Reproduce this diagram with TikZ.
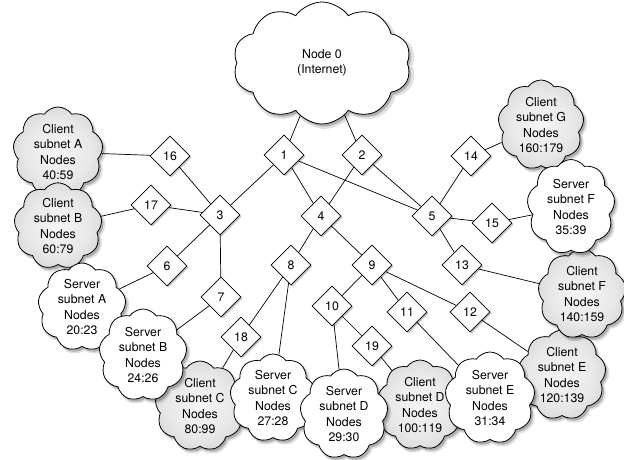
\documentclass[tikz,border=0pt]{standalone}
\usepackage{fontspec}
\setmainfont{TeX Gyre Heros}
\usetikzlibrary{shapes.symbols,shapes.geometric,shadows,backgrounds}
\pgfdeclareradialshading{cloudshade}{\pgfpointorigin}{color(0bp)=(black!4); color(18bp)=(black!9); color(34bp)=(black!20); color(50bp)=(black!36)}
\begin{document}
\begin{tikzpicture}[x=1pt,y=-1pt,
  every node/.style={font=\fontsize{12.3}{15.5}\selectfont, align=center},
  softshadow/.style={
     drop shadow={shadow xshift=2.5pt, shadow yshift=-3pt, shadow scale=1.03, fill=black, opacity=0.12},
     drop shadow={shadow xshift=2pt, shadow yshift=-2.5pt, fill=black, opacity=0.22}},
  cl/.style={cloud, cloud puffs=9, cloud puff arc=110, cloud ignores aspect, draw=black, line width=0.8pt, inner sep=0pt, softshadow},
  wcl/.style={cl, fill=white},
  gcl/.style={cl, shading=cloudshade},
  dia/.style={diamond, draw=black, fill=white, line width=0.8pt, minimum width=40pt, minimum height=40pt, inner sep=0pt,
     drop shadow={shadow xshift=1.5pt, shadow yshift=-1.5pt, fill=black, opacity=0.25}},
  edge/.style={line width=0.7pt}]
\useasboundingbox (0,0) rectangle (624,459);
% clouds
\node[wcl, cloud puffs=10, minimum width=178pt, minimum height=122pt] (n0) at (322,63) {Node 0\\(Internet)};
\node[gcl, minimum width=90pt, minimum height=90pt] (ca) at (58,152) {Client\\subnet A\\Nodes\\40:59};
\node[gcl, minimum width=88pt, minimum height=86pt] (cb) at (58,226) {Client\\subnet B\\Nodes\\60:79};
\node[wcl, minimum width=88pt, minimum height=88pt] (sa) at (82,307) {Server\\subnet A\\Nodes\\20:23};
\node[gcl, minimum width=90pt, minimum height=90pt] (cc) at (200,406) {Client\\subnet C\\Nodes\\80:99};
\node[wcl, minimum width=88pt, minimum height=92pt] (sb) at (143,355) {Server\\subnet B\\Nodes\\24:26};
\node[wcl, minimum width=86pt, minimum height=88pt] (sc) at (273,398) {Server\\subnet C\\Nodes\\27:28};
\node[gcl, minimum width=86pt, minimum height=90pt] (cd) at (420,405) {Client\\subnet D\\Nodes\\100:119};
\node[wcl, minimum width=88pt, minimum height=90pt] (sd) at (344,414) {Server\\subnet D\\Nodes\\29:30};
\node[gcl, minimum width=88pt, minimum height=90pt] (ce) at (562,375) {Client\\subnet E\\Nodes\\120:139};
\node[wcl, minimum width=90pt, minimum height=92pt] (se) at (490,398) {Server\\subnet E\\Nodes\\31:34};
\node[gcl, minimum width=88pt, minimum height=90pt] (cf) at (582,294) {Client\\subnet F\\Nodes\\140:159};
\node[gcl, minimum width=86pt, minimum height=90pt] (cg) at (541,125) {Client\\subnet G\\Nodes\\160:179};
\node[wcl, minimum width=88pt, minimum height=95pt] (sf) at (571,207) {Server\\subnet F\\Nodes\\35:39};
% diamonds
\node[dia] (d1) at (284,155) {1};
\node[dia] (d2) at (362,155) {2};
\node[dia] (d3) at (220,215) {3};
\node[dia] (d4) at (321,216) {4};
\node[dia] (d5) at (432,216) {5};
\node[dia] (d6) at (167,266) {6};
\node[dia] (d7) at (221,297) {7};
\node[dia] (d8) at (291,265) {8};
\node[dia] (d9) at (372,265) {9};
\node[dia] (d10) at (332,306) {10};
\node[dia] (d11) at (407,312) {11};
\node[dia] (d12) at (470,312) {12};
\node[dia] (d13) at (462,265) {13};
\node[dia] (d14) at (471,156) {14};
\node[dia] (d15) at (492,223) {15};
\node[dia] (d16) at (170,156) {16};
\node[dia] (d17) at (151,205) {17};
\node[dia] (d18) at (241,337) {18};
\node[dia] (d19) at (372,346) {19};
% edges
\begin{scope}[on background layer]
\draw[edge] (n0) -- (d1);
\draw[edge] (n0) -- (d2);
\draw[edge] (d1) -- (d3);
\draw[edge] (d1) -- (d4);
\draw[edge] (d1) -- (d5);
\draw[edge] (d2) -- (d4);
\draw[edge] (d2) -- (d5);
\draw[edge] (ca) -- (d16);
\draw[edge] (d16) -- (d3);
\draw[edge] (cb) -- (d17);
\draw[edge] (d17) -- (d3);
\draw[edge] (d3) -- (d6);
\draw[edge] (d3) -- (d7);
\draw[edge] (d6) -- (sa);
\draw[edge] (d7) -- (sb);
\draw[edge] (d4) -- (d8);
\draw[edge] (d4) -- (d9);
\draw[edge] (d8) -- (d18);
\draw[edge] (d8) -- (sc);
\draw[edge] (d18) -- (cc);
\draw[edge] (d9) -- (d10);
\draw[edge] (d9) -- (d11);
\draw[edge] (d9) -- (d12);
\draw[edge] (d10) -- (sd);
\draw[edge] (d10) -- (d19);
\draw[edge] (d19) -- (cd);
\draw[edge] (d11) -- (se);
\draw[edge] (d12) -- (ce);
\draw[edge] (d5) -- (d14);
\draw[edge] (d5) -- (d15);
\draw[edge] (d5) -- (d13);
\draw[edge] (d14) -- (cg);
\draw[edge] (d15) -- (sf);
\draw[edge] (d13) -- (cf);
\end{scope}
\end{tikzpicture}
\end{document}
